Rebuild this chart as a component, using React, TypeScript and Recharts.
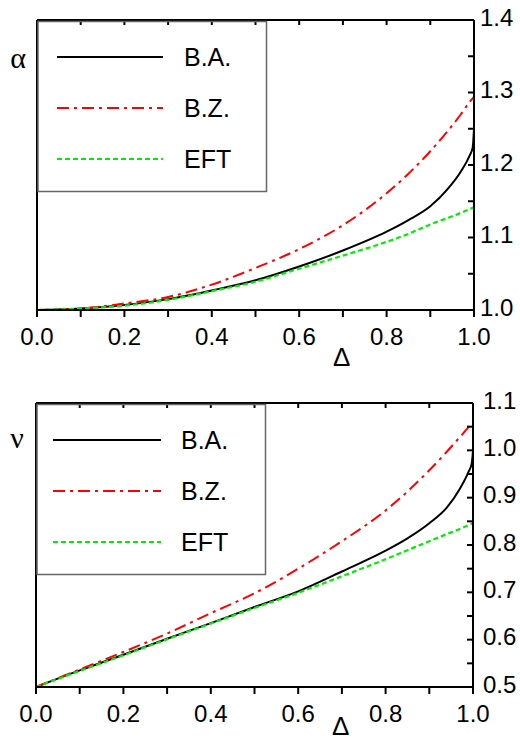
import React from "react";
import { LineChart, Line, XAxis, YAxis, Legend, Label } from "recharts";

// ---- data ----
const deltas = [0, 0.1, 0.2, 0.3, 0.4, 0.5, 0.6, 0.7, 0.8, 0.85, 0.9, 0.94, 0.97, 0.99, 0.997, 1.0];

const alphaBA = [1.0, 1.002, 1.007, 1.015, 1.027, 1.041, 1.06, 1.082, 1.108, 1.124, 1.143, 1.167, 1.191, 1.213, 1.224, 1.25];
const alphaBZ = [1.0, 1.002, 1.009, 1.018, 1.035, 1.058, 1.084, 1.117, 1.161, 1.188, 1.219, 1.247, 1.27, 1.287, 1.292, 1.294];
const alphaEFT = [1.0, 1.002, 1.006, 1.014, 1.026, 1.039, 1.057, 1.075, 1.094, 1.105, 1.118, 1.127, 1.134, 1.139, 1.141, 1.142];

const nuBA = [0.5, 0.535, 0.568, 0.602, 0.635, 0.669, 0.702, 0.744, 0.788, 0.814, 0.846, 0.879, 0.919, 0.955, 0.972, 0.999];
const nuBZ = [0.5, 0.537, 0.574, 0.613, 0.656, 0.698, 0.75, 0.808, 0.873, 0.913, 0.958, 0.997, 1.028, 1.049, 1.055, 1.058];
const nuEFT = [0.5, 0.534, 0.567, 0.601, 0.634, 0.667, 0.699, 0.734, 0.77, 0.789, 0.808, 0.823, 0.834, 0.842, 0.845, 0.846];

const xTicks = [0, 0.1, 0.2, 0.3, 0.4, 0.5, 0.6, 0.7, 0.8, 0.9, 1.0];
const alphaTicks = [1.0, 1.05, 1.1, 1.15, 1.2, 1.25, 1.3, 1.35, 1.4];
const nuTicks = [0.5, 0.55, 0.6, 0.65, 0.7, 0.75, 0.8, 0.85, 0.9, 0.95, 1.0, 1.05, 1.1];

const seriesNames = ["B.A.", "B.Z.", "EFT"];
const seriesKeys = ["ba", "bz", "eft"];

const styles = [
  { stroke: "#000000", dash: undefined as string | undefined, width: 2 },
  { stroke: "#ff0000", dash: "12 5 3 5", width: 2 },
  { stroke: "#00ee00", dash: "5 3", width: 2.2 },
];

const topData = deltas.map((d, i) => ({ d, ba: alphaBA[i], bz: alphaBZ[i], eft: alphaEFT[i] }));
const botData = deltas.map((d, i) => ({ d, ba: nuBA[i], bz: nuBZ[i], eft: nuEFT[i] }));

const SANS = "'Liberation Sans', Arial, sans-serif";
const SERIF = "'Liberation Serif', 'Times New Roman', serif";
const FS = 24;

const isMajorX = (v: number) => Math.round(v * 100) % 20 === 0;
const isMajorY = (v: number) => Math.round(v * 100) % 10 === 0;

const BottomLabel = (props: any) => {
  const { x, y, payload } = props;
  const v = payload.value as number;
  if (!isMajorX(v)) return <g />;
  return (
    <text x={x} y={y + 28} textAnchor="middle" fontFamily={SANS} fontSize={FS} fill="#000">
      {v.toFixed(1)}
    </text>
  );
};

const NoLabel = () => <g />;

const RightLabel = (props: any) => {
  const { x, y, payload } = props;
  const v = payload.value as number;
  if (!isMajorY(v)) return <g />;
  return (
    <text x={x} y={y + 5.5} textAnchor="start" fontFamily={SANS} fontSize={FS} fill="#000">
      {v.toFixed(1)}
    </text>
  );
};

const LegendBox = ({ lineY, lineX1, lineX2, textX, textDy }: any) => (
  <svg width={232} height={174} style={{ display: "block" }}>
    <rect x={1} y={1.5} width={228.5} height={170} fill="none" stroke="#666" strokeWidth={1.5} />
    {seriesNames.map((name, i) => (
      <g key={name}>
        <line
          x1={lineX1}
          x2={lineX2}
          y1={lineY[i]}
          y2={lineY[i]}
          stroke={styles[i].stroke}
          strokeWidth={styles[i].width}
          strokeDasharray={styles[i].dash}
        />
        <text x={textX} y={lineY[i] + textDy} fontFamily={SANS} fontSize={25} fill="#000">
          {name}
        </text>
      </g>
    ))}
  </svg>
);

const axisLine = { stroke: "#000", strokeWidth: 2 };
const tickLine = { stroke: "#000", strokeWidth: 2 };

type PanelProps = {
  data: any[];
  height: number;
  margin: { top: number; right: number; bottom: number; left: number };
  xAxisHeight: number;
  rightWidth: number;
  domain: [number, number];
  yTicks: number[];
  symbol: string;
  symbolDy: number;
  deltaDy: number;
  rightDx: number;
  legendPos: { left: number; top: number };
  legendLineY: number[];
  legendLineX: [number, number];
  legendTextX: number;
};

const Panel = (p: PanelProps) => {
  return (
    <LineChart width={520} height={p.height} data={p.data} margin={p.margin}>
      <XAxis
        xAxisId="b"
        dataKey="d"
        type="number"
        domain={[0, 1]}
        ticks={xTicks}
        interval={0}
        orientation="bottom"
        height={p.xAxisHeight}
        tickSize={7}
        tickMargin={0}
        tickLine={tickLine}
        axisLine={axisLine}
        tick={<BottomLabel />}
      >
        <Label
          content={(lp: any) => {
            const vb = lp.viewBox;
            return (
              <text
                x={vb.x + 0.697 * vb.width}
                y={vb.y + p.deltaDy}
                textAnchor="middle"
                fontFamily={SANS}
                fontSize={26}
                fill="#000"
              >
                Δ
              </text>
            );
          }}
        />
      </XAxis>
      <XAxis
        xAxisId="t"
        dataKey="d"
        type="number"
        domain={[0, 1]}
        ticks={xTicks}
        interval={0}
        orientation="top"
        height={1}
        tickSize={-5}
        tickMargin={0}
        tickLine={tickLine}
        axisLine={axisLine}
        tick={<NoLabel />}
      />
      <YAxis
        yAxisId="l"
        type="number"
        domain={p.domain}
        ticks={p.yTicks}
        interval={0}
        orientation="left"
        width={1}
        tickSize={-5}
        tickMargin={0}
        tickLine={tickLine}
        axisLine={axisLine}
        tick={<NoLabel />}
      >
        <Label
          content={(lp: any) => {
            const vb = lp.viewBox;
            return (
              <text
                x={vb.x + vb.width - 19}
                y={vb.y + p.symbolDy}
                textAnchor="middle"
                fontFamily={SERIF}
                fontSize={30}
                fill="#000"
              >
                {p.symbol}
              </text>
            );
          }}
        />
      </YAxis>
      <YAxis
        yAxisId="r"
        type="number"
        domain={p.domain}
        ticks={p.yTicks}
        interval={0}
        orientation="right"
        width={p.rightWidth}
        tickSize={-6}
        tickMargin={6 + p.rightDx}
        tickLine={tickLine}
        axisLine={axisLine}
        tick={<RightLabel />}
      />
      <Legend
        layout="horizontal"
        verticalAlign="middle"
        align="center"
        wrapperStyle={{ left: p.legendPos.left, top: p.legendPos.top, width: 232, height: 174, pointerEvents: "none" }}
        content={() => (
          <LegendBox
            lineY={p.legendLineY}
            lineX1={p.legendLineX[0]}
            lineX2={p.legendLineX[1]}
            textX={p.legendTextX}
            textDy={8.5}
          />
        )}
      />
      {seriesKeys.map((k, i) => (
        <Line
          key={k}
          xAxisId="b"
          yAxisId="r"
          dataKey={k}
          name={seriesNames[i]}
          type="monotone"
          stroke={styles[i].stroke}
          strokeWidth={styles[i].width}
          strokeDasharray={styles[i].dash}
          dot={false}
          activeDot={false}
          isAnimationActive={false}
        />
      ))}
    </LineChart>
  );
};

export default function App() {
  return (
    <div style={{ position: "absolute", left: 0, top: 0, width: 520, height: 740, background: "#fff" }}>
      <div style={{ position: "absolute", left: 0, top: 0 }}>
        <Panel
          data={topData}
          height={370}
          margin={{ top: 19, right: 0, bottom: 0, left: 36 }}
          xAxisHeight={60}
          rightWidth={46}
          domain={[1.0, 1.4]}
          yTicks={alphaTicks}
          symbol="α"
          symbolDy={48}
          deltaDy={55.5}
          rightDx={6}
          legendPos={{ left: 37, top: 20 }}
          legendLineY={[37, 88, 139]}
          legendLineX={[20, 126]}
          legendTextX={147}
        />
      </div>
      <div style={{ position: "absolute", left: 0, top: 370 }}>
        <Panel
          data={botData}
          height={370}
          margin={{ top: 32, right: 0, bottom: 0, left: 35 }}
          xAxisHeight={53}
          rightWidth={47}
          domain={[0.5, 1.1]}
          yTicks={nuTicks}
          symbol="ν"
          symbolDy={45}
          deltaDy={48}
          rightDx={10}
          legendPos={{ left: 36, top: 33 }}
          legendLineY={[37, 88, 139]}
          legendLineX={[17, 125]}
          legendTextX={145}
        />
      </div>
    </div>
  );
}
